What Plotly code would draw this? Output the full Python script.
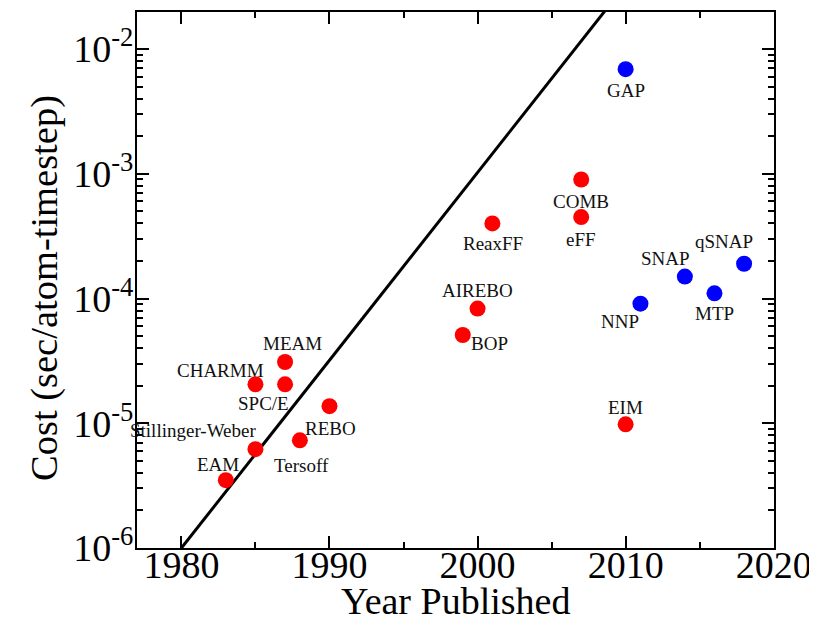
import math
import plotly.graph_objects as go

# ---- data ----
red_names = ["EAM", "Stillinger-Weber", "CHARMM", "SPC/E", "MEAM", "Tersoff", "REBO",
             "BOP", "AIREBO", "ReaxFF", "COMB", "eFF", "EIM"]
red_years = [1983, 1985, 1985, 1987, 1987, 1988, 1990, 1999, 2000, 2001, 2007, 2007, 2010]
red_costs = [3.5e-6, 6.2e-6, 2.05e-5, 2.05e-5, 3.1e-5, 7.3e-6, 1.37e-5,
             5.1e-5, 8.3e-5, 4.0e-4, 9.0e-4, 4.5e-4, 9.8e-6]

blue_names = ["GAP", "NNP", "SNAP", "MTP", "qSNAP"]
blue_years = [2010, 2011, 2014, 2016, 2018]
blue_costs = [6.9e-3, 9.1e-5, 1.5e-4, 1.1e-4, 1.9e-4]

trend_years = [1980, 2010]
trend_costs = [1e-6, 3.28e-2]

x_ticks = [1980, 1990, 2000, 2010, 2020]
y_ticks = [1e-6, 1e-5, 1e-4, 1e-3, 1e-2]
y_ticktext = ["10<sup>-6</sup>", "10<sup>-5</sup>", "10<sup>-4</sup>", "10<sup>-3</sup>", "10<sup>-2</sup>"]

x_title = "Year Published"
y_title = "Cost (sec/atom-timestep)"

# label offsets in screen pixels (dx, dy)
label_offsets = {
    "EAM": (-8, 16), "Stillinger-Weber": (-62, 19), "CHARMM": (-35, 14),
    "SPC/E": (-22, -19), "MEAM": (7, 18), "Tersoff": (2, -25), "REBO": (1, -22),
    "BOP": (27, -8), "AIREBO": (0, 18), "ReaxFF": (1, -20), "COMB": (0, -22),
    "eFF": (0, -22), "EIM": (0, 17), "GAP": (0, -21), "NNP": (-20, -18),
    "SNAP": (-19, 18), "MTP": (0, -20), "qSNAP": (-20, 22),
}

FONT = "Liberation Serif"

fig = go.Figure()
fig.add_trace(go.Scatter(x=trend_years, y=trend_costs, mode="lines",
                         line=dict(color="black", width=3), showlegend=False,
                         hoverinfo="skip"))
fig.add_trace(go.Scatter(x=red_years, y=red_costs, mode="markers",
                         marker=dict(color="#ff0000", size=16), showlegend=False,
                         text=red_names))
fig.add_trace(go.Scatter(x=blue_years, y=blue_costs, mode="markers",
                         marker=dict(color="#0000ff", size=16), showlegend=False,
                         text=blue_names))

for names, xs, ys in ((red_names, red_years, red_costs), (blue_names, blue_years, blue_costs)):
    for n, x, y in zip(names, xs, ys):
        dx, dy = label_offsets[n]
        fig.add_annotation(x=x, y=math.log10(y), xref="x", yref="y", text=n, showarrow=False,
                           xshift=dx, yshift=dy,
                           font=dict(family=FONT, size=19, color="#111"))

# axis titles
fig.add_annotation(x=0.5, y=0, xref="paper", yref="paper", text=x_title, showarrow=False,
                   xanchor="center", yanchor="middle", yshift=-53,
                   font=dict(family=FONT, size=38, color="black"))
fig.add_annotation(x=0, y=0.5, xref="paper", yref="paper", text=y_title, showarrow=False,
                   textangle=-90, xanchor="center", yanchor="middle", xshift=-93, yshift=-8,
                   font=dict(family=FONT, size=38.5, color="black"))

axis_common = dict(showline=True, linecolor="black", linewidth=2, mirror="ticks",
                   ticks="inside", ticklen=12, tickwidth=2, tickcolor="black",
                   showgrid=False, zeroline=False, automargin=False,
                   tickfont=dict(family=FONT, size=38, color="black"))

fig.update_xaxes(range=[1977, 2020.02], tickvals=x_ticks, ticklabelstandoff=-18,
                 minor=dict(ticks="inside", ticklen=6, tickwidth=2, tickcolor="black", dtick=5),
                 **axis_common)
fig.update_yaxes(type="log", range=[-6, -1.703], tickvals=y_ticks, ticktext=y_ticktext,
                 ticklabelstandoff=-6,
                 minor=dict(ticks="inside", ticklen=6, tickwidth=2, tickcolor="black", dtick="D1"),
                 **axis_common)

fig.update_layout(width=809, height=609, margin=dict(l=129, r=43, t=4, b=69),
                  plot_bgcolor="white", paper_bgcolor="white")

fig.write_html("out.html")
